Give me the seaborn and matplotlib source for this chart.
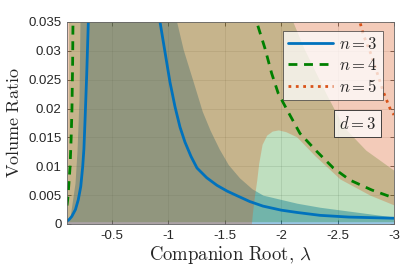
import numpy as np
import pandas as pd
import matplotlib
matplotlib.use("Agg")
import matplotlib.pyplot as plt
import seaborn as sns
from matplotlib.lines import Line2D

# curves (x = companion root, y = volume ratio)
n3_left_x = [-0.100, -0.120, -0.142, -0.175, -0.200, -0.222, -0.239, -0.250, -0.260, -0.275, -0.289, -0.292]
n3_left_y = [0.0005, 0.0008, 0.0013, 0.0025, 0.0042, 0.0065, 0.0099, 0.0130, 0.0180, 0.0260, 0.0350, 0.0380]
n3_right_x = [-0.915, -0.925, -0.969, -1.013, -1.058, -1.102, -1.146, -1.200, -1.253, -1.340, -1.430, -1.520, -1.608, -1.720, -1.838, -2.000, -2.140, -2.344, -2.600, -3.000]
n3_right_y = [0.0370, 0.0350, 0.0298, 0.0246, 0.0203, 0.0168, 0.0142, 0.0117, 0.0097, 0.0080, 0.0067, 0.0057, 0.0049, 0.0039, 0.0031, 0.0024, 0.0020, 0.0015, 0.0012, 0.0010]

n4_left_x = [-0.100, -0.106, -0.115, -0.127, -0.137, -0.144, -0.150, -0.153, -0.155]
n4_left_y = [0.0032, 0.0042, 0.0065, 0.0099, 0.0150, 0.0200, 0.0280, 0.0350, 0.0380]
n4_right_x = [-1.770, -1.782, -1.856, -1.915, -1.974, -2.062, -2.166, -2.314, -2.462, -2.610, -2.802, -3.000]
n4_right_y = [0.0370, 0.0350, 0.0304, 0.0261, 0.0226, 0.0194, 0.0157, 0.0126, 0.0097, 0.0076, 0.0059, 0.0045]

n5_x = [-2.690, -2.698, -2.728, -2.787, -2.847, -2.905, -2.965, -3.000]
n5_y = [0.0360, 0.0350, 0.0328, 0.0299, 0.0264, 0.0229, 0.0200, 0.0189]

# shaded regions
fill3_x = [-0.100, -0.127, -0.171, -0.189, -0.206, -0.215, -0.222,
           -1.065, -1.073, -1.131, -1.220, -1.300, -1.370, -1.450, -1.530, -1.630, -1.741, -1.838, -2.140, -2.344, -3.000]
fill3_top = [0.0003, 0.0012, 0.0071, 0.0128, 0.0215, 0.0350, 0.0450,
             0.0450, 0.0350, 0.0302, 0.0246, 0.0195, 0.0162, 0.0130, 0.0103, 0.0080, 0.0061, 0.0050, 0.0036, 0.0029, 0.0012]

fill4_x = [-0.100, -0.105, -0.110, -0.113, -0.115, -2.090, -2.104, -2.200, -2.300, -2.400, -2.550, -2.750, -3.000]
fill4_top = [0.0004, 0.0080, 0.0200, 0.0350, 0.0450, 0.0450, 0.0350, 0.0305, 0.0265, 0.0225, 0.0169, 0.0128, 0.0093]
fill4_bottom = 0.0004

fill5_x = [-0.100, -1.735, -1.745, -1.760, -1.782, -1.800, -1.830, -1.871, -1.920, -1.974, -2.040, -2.137, -2.300, -2.521, -2.787, -3.000]
fill5_bottom = [0.0, 0.0, 0.0020, 0.0045, 0.0075, 0.0105, 0.0138, 0.0154, 0.0161, 0.0163, 0.0160, 0.0151, 0.0118, 0.0078, 0.0050, 0.0033]
fill5_top = 0.045

x_ticks = [-0.5, -1, -1.5, -2, -2.5, -3]
x_labels = ["-0.5", "-1", "-1.5", "-2", "-2.5", "-3"]
y_ticks = [0, 0.005, 0.01, 0.015, 0.02, 0.025, 0.03, 0.035]
y_labels = ["0", "0.005", "0.01", "0.015", "0.02", "0.025", "0.03", "0.035"]

blue = (0.0, 0.447, 0.741)
green = (0.0, 0.5, 0.0)
orange = (0.85, 0.325, 0.098)
dark = "#262626"

sns.set_style("ticks")
plt.rcParams["font.family"] = ["Liberation Sans", "DejaVu Sans"]
plt.rcParams["mathtext.fontset"] = "cm"
plt.rcParams["axes.unicode_minus"] = False

fig = plt.figure(figsize=(4.07, 2.72), dpi=100)
ax = fig.add_axes([67 / 407, 48 / 272, 327 / 407, 202 / 272])

ax.fill_between(fill3_x, 0, fill3_top, color=blue, alpha=0.4, lw=0)
ax.fill_between(fill4_x, fill4_bottom, fill4_top, color=green, alpha=0.25, lw=0)
ax.fill_between(fill5_x, fill5_bottom, fill5_top, color=orange, alpha=0.3, lw=0)

lw = 2.0
sns.lineplot(x=n3_left_x, y=n3_left_y, ax=ax, color=blue, lw=lw, sort=False, estimator=None)
sns.lineplot(x=n3_right_x, y=n3_right_y, ax=ax, color=blue, lw=lw, sort=False, estimator=None)
dash = (0, (3.2, 2.4))
sns.lineplot(x=n4_left_x, y=n4_left_y, ax=ax, color=green, lw=lw, linestyle=dash, sort=False, estimator=None)
sns.lineplot(x=n4_right_x, y=n4_right_y, ax=ax, color=green, lw=lw, linestyle=dash, sort=False, estimator=None)
sns.lineplot(x=n5_x, y=n5_y, ax=ax, color=orange, lw=lw, linestyle=":", sort=False, estimator=None)

ax.set_xlim(-0.1, -3)
ax.set_ylim(0, 0.035)
ax.set_xticks(x_ticks)
ax.set_xticklabels(x_labels)
ax.set_yticks(y_ticks)
ax.set_yticklabels(y_labels)
ax.grid(True, color=(0.15, 0.15, 0.15), alpha=0.15, lw=0.5)
ax.set_axisbelow(True)
ax.tick_params(direction="in", top=True, right=True, length=3, width=0.5,
               labelsize=9.5, labelcolor=dark, color=dark, pad=4)
for s in ax.spines.values():
    s.set_linewidth(0.6)
    s.set_color("#666666")

ax.set_xlabel(r"$\mathrm{Companion\ Root,}\,\lambda$", fontsize=13.5, color=dark, labelpad=2)
ax.set_ylabel(r"$\mathrm{Volume\ Ratio}$", fontsize=13, color=dark, labelpad=4)

handles = [Line2D([], [], color=blue, lw=lw),
           Line2D([], [], color=green, lw=lw, linestyle=dash),
           Line2D([], [], color=orange, lw=lw, linestyle=":")]
leg = ax.legend(handles, [r"$n=3$", r"$n=4$", r"$n=5$"], loc="upper right",
                bbox_to_anchor=(0.966, 0.955), fontsize=12, handlelength=2.7,
                fancybox=False, framealpha=0.75, edgecolor=dark, borderpad=0.3,
                labelspacing=0.3, handletextpad=0.4, borderaxespad=0, labelcolor=dark)
leg.get_frame().set_linewidth(0.6)

ax.text(0.887, 0.4975, r"$d=3$", transform=ax.transAxes, ha="center", va="center",
        fontsize=12, color=dark,
        bbox=dict(boxstyle="square,pad=0.3", fc=(1, 1, 1, 0.75), ec=dark, lw=0.6))

fig.savefig("out.png", dpi=100)
